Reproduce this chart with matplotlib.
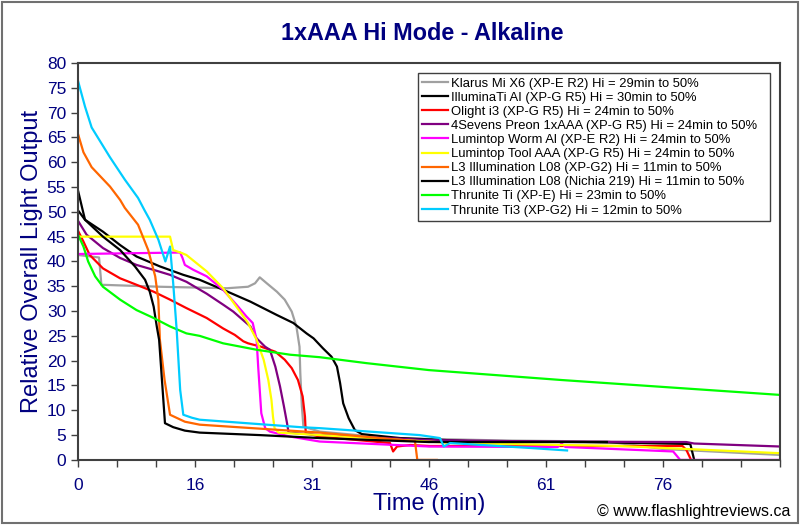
import matplotlib
matplotlib.use("Agg")
import matplotlib.pyplot as plt
from matplotlib.patches import Rectangle
from matplotlib.ticker import MultipleLocator

plt.rcParams['font.family'] = ['Liberation Sans', 'DejaVu Sans']

NAVY = '#000080'

# RUNTIME DATA (time in minutes, relative output)
klarus_t = [0, 2.7, 3.0, 10.5, 19.1, 21.8, 22.7, 23.3, 24.2, 25.5, 26.5, 27.4, 28.0, 28.4, 28.5, 28.7, 28.9, 31, 40, 55, 67.8, 75, 90]
klarus_v = [41.3, 40.8, 35.3, 34.9, 34.6, 34.9, 35.6, 36.8, 35.6, 33.9, 32.3, 29.9, 26.9, 22.8, 17.5, 10.8, 6.7, 5.7, 4.4, 3.9, 3.7, 2.2, 1.0]

illuminati_t = [0, 0.9, 3.2, 5.4, 7.5, 10.5, 13.5, 15.6, 18.6, 22.1, 25.5, 27.6, 29.3, 30.2, 31.4, 32.5, 33.2, 33.6, 34.0, 34.7, 35.5, 36.4, 41.3, 50, 65, 78.5, 79.0]
illuminati_v = [50.3, 48.4, 46, 43.3, 41, 39, 37.3, 36.3, 34.3, 31.9, 29.2, 27.6, 25.5, 24.5, 22.5, 20.8, 18.8, 15.5, 11.4, 8.4, 6.0, 5.2, 4.4, 3.8, 3.6, 3.2, 0]

olight_t = [0, 0.7, 1.5, 3.2, 5.4, 7.5, 9.7, 11.8, 13.9, 16.5, 18.6, 20.1, 21.2, 21.8, 23.5, 25.3, 26.5, 27.4, 28.2, 28.8, 29.1, 29.2, 31, 40, 40.4, 40.9, 42.6, 45.1, 60, 77.5, 78.0, 78.6]
olight_v = [46.2, 44, 41.3, 38.6, 36.6, 35.3, 33.9, 32.3, 30.6, 28.6, 26.5, 25.2, 23.9, 23.5, 22.8, 21.8, 20.2, 18.5, 16.1, 12.8, 8.7, 5.4, 4.7, 3.4, 1.7, 2.7, 3.0, 2.8, 2.8, 2.8, 2.0, 0]

preon_t = [0, 1.1, 3.2, 5.4, 7.5, 9.7, 11.8, 13.9, 16.5, 18.6, 19.9, 22.1, 22.9, 24.0, 24.6, 25.3, 25.9, 26.4, 26.8, 27.0, 31, 45, 60, 78, 79, 90]
preon_v = [48.2, 45.4, 42.7, 40.7, 39.3, 38.3, 37.3, 35.9, 33.5, 31.3, 29.9, 26.9, 24.5, 22.8, 22.2, 18.8, 14.8, 10.8, 7.4, 5.5, 5.0, 4.0, 3.7, 3.6, 3.3, 2.7]

worm_t = [0, 13.1, 13.4, 13.7, 14.8, 16.5, 18.6, 20.3, 21.6, 22.4, 22.9, 23.1, 23.3, 23.5, 24.0, 24.6, 27.2, 31, 45, 61.5, 62, 62.5, 76.3, 77.2, 90]
worm_v = [41.5, 41.8, 40.7, 39.3, 38.3, 37, 34.3, 31.3, 28.9, 27.6, 24.2, 18.8, 14.1, 9.4, 6.4, 5.7, 4.7, 3.7, 2.7, 2.6, 3.3, 2.6, 1.7, 0, 0]

tool_t = [0, 11.8, 12.2, 13.3, 13.9, 16.5, 18.6, 20.3, 21.8, 22.9, 23.8, 24.4, 24.8, 25.0, 25.2, 25.7, 31, 48, 69.5, 78, 90]
tool_v = [45, 45, 42.3, 41.7, 41.3, 38, 34.6, 30.9, 27.6, 24.2, 20.2, 16.1, 12.1, 8.7, 6.4, 5.5, 5.0, 3.4, 2.8, 2.2, 1.35]

l08_xpg2_t = [0, 0.7, 1.75, 4.1, 5.4, 6.0, 7.7, 9.0, 9.9, 10.3, 10.5, 11.1, 11.8, 13.7, 15.6, 31, 38.7, 43.2, 43.5, 46]
l08_xpg2_v = [65.7, 62, 59, 55.1, 52.4, 50.8, 47.4, 42.3, 37, 32.3, 24.2, 16.1, 9.1, 7.7, 7.1, 5.5, 4.4, 3.8, 0, 0]

l08_219_t = [0, 0.5, 0.9, 3.2, 5.4, 7.3, 8.6, 9.2, 9.7, 10.1, 10.4, 10.7, 11.15, 12.2, 13.7, 15.6, 23.3, 31, 45, 67.8]
l08_219_v = [54.3, 51, 48.4, 45, 42.3, 39, 36.3, 33.9, 30.9, 26.9, 24.2, 17.5, 7.4, 6.6, 5.9, 5.5, 5.0, 4.4, 3.6, 3.6]

ti_t = [0, 0.7, 1.3, 2.2, 3.2, 5.4, 7.5, 9.7, 11.8, 13.9, 15.6, 18.6, 22.9, 27.2, 31, 37, 45, 62, 90]
ti_v = [45.4, 43, 40, 37, 34.9, 32.3, 30.2, 28.6, 26.9, 25.5, 25.0, 23.5, 22.2, 21.2, 20.7, 19.5, 18.1, 16.1, 13.1]

ti3_t = [0, 0.9, 1.75, 4.1, 6.0, 7.7, 8.5, 9.2, 10.3, 11.2, 11.8, 12.2, 12.65, 13.1, 13.5, 14.6, 15.6, 28.5, 31, 43.8, 46.4, 46.9, 47.7, 58, 62.7]
ti3_v = [76.4, 71.2, 67, 61, 56.5, 52.8, 50.4, 48.4, 44.4, 40, 43, 35.7, 26.2, 14.1, 9.1, 8.5, 8.1, 6.6, 6.4, 5.0, 4.4, 2.7, 3.4, 2.4, 1.9]

labels = ['Klarus Mi X6 (XP-E R2) Hi = 29min to 50%',
          'IlluminaTi AI (XP-G R5) Hi = 30min to 50%',
          'Olight i3 (XP-G R5) Hi = 24min to 50%',
          '4Sevens Preon 1xAAA (XP-G R5) Hi = 24min to 50%',
          'Lumintop Worm Al (XP-E R2) Hi = 24min to 50%',
          'Lumintop Tool AAA (XP-G R5) Hi = 24min to 50%',
          'L3 Illumination L08 (XP-G2) Hi = 11min to 50%',
          'L3 Illumination L08 (Nichia 219) Hi = 11min to 50%',
          'Thrunite Ti (XP-E) Hi = 23min to 50%',
          'Thrunite Ti3 (XP-G2) Hi = 12min to 50%']
colors = ['#a0a0a0', '#000000', '#ff0000', '#800080', '#ff00ff',
          '#ffff00', '#ff6600', '#000000', '#00ff00', '#00ccff']
series = [(klarus_t, klarus_v), (illuminati_t, illuminati_v), (olight_t, olight_v),
          (preon_t, preon_v), (worm_t, worm_v), (tool_t, tool_v),
          (l08_xpg2_t, l08_xpg2_v), (l08_219_t, l08_219_v), (ti_t, ti_v), (ti3_t, ti3_v)]

x_tick_pos = [0, 15, 30, 45, 60, 75]
x_tick_labels = ['0', '16', '31', '46', '61', '76']

fig = plt.figure(figsize=(8, 5.25), dpi=100)
ax = fig.add_axes([0.0975, 0.124, 0.8775, 0.756])

for (t, v), c, lab in zip(series, colors, labels):
    ax.plot(t, v, color=c, linewidth=1.6, label=lab)

ax.set_xlim(0, 90)
ax.set_ylim(0, 80)
ax.set_xticks(x_tick_pos)
ax.set_xticklabels(x_tick_labels)
ax.xaxis.set_minor_locator(MultipleLocator(5))
ax.yaxis.set_major_locator(MultipleLocator(5))
ax.tick_params(axis='both', which='both', direction='out', length=5, width=1,
               colors='#404040', labelcolor=NAVY, labelsize=12.5)
ax.tick_params(axis='x', which='major', pad=8)

for s in ax.spines.values():
    s.set_color('#404040')
    s.set_linewidth(1.5)

ax.set_xlabel('Time (min)', color=NAVY, fontsize=17, labelpad=0)
ax.set_ylabel('Relative Overall Light Output', color=NAVY, fontsize=17, labelpad=3)

fig.text(0.528, 0.937, '1xAAA Hi Mode - Alkaline', color=NAVY, fontsize=16.8,
         fontweight='bold', ha='center', va='center')
fig.text(0.988, 0.025, '\u00a9 www.flashlightreviews.ca', fontsize=11.5,
         ha='right', va='center')

leg = ax.legend(loc='upper left', bbox_to_anchor=(0.484, 0.5, 0.5014, 0.475),
                mode='expand', borderaxespad=0,
                fontsize=9.4, handlelength=2.0, handletextpad=0.2,
                labelspacing=0.15, borderpad=0.35, fancybox=False,
                framealpha=1, edgecolor='#404040')
leg.get_frame().set_linewidth(1)

# outer frame round the whole picture
fig.patches.append(Rectangle((0.002, 0.003), 0.996, 0.994, transform=fig.transFigure,
                             fill=False, edgecolor='#707070', linewidth=1.5))

fig.savefig('out.png', dpi=100)
